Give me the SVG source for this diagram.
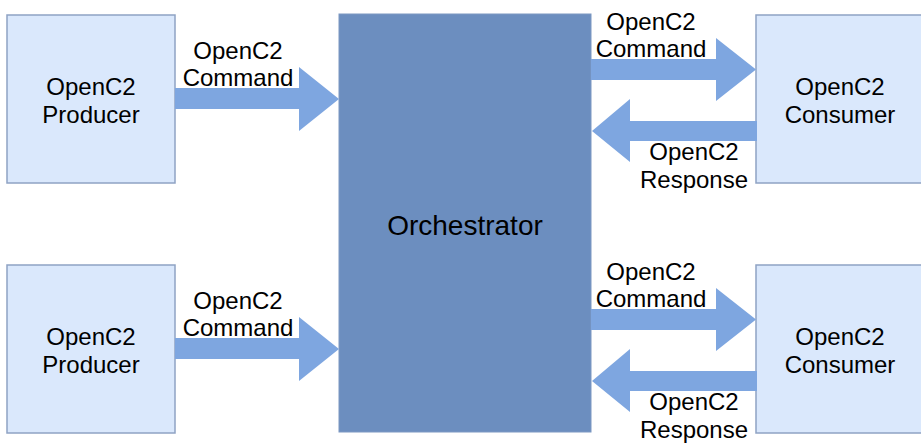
<svg xmlns="http://www.w3.org/2000/svg" width="921" height="445" viewBox="0 0 921 445">
  <style>
    .box { fill: #dae8fc; stroke: #8fa3c4; stroke-width: 1.5; }
    .orch { fill: #6c8ebf; stroke: #7d98c2; stroke-width: 1; }
    .arrow { fill: #7ea6e0; stroke: none; }
    .lbl-bg { fill: #ffffff; }
    text { font-family: "Liberation Sans", Arial, Helvetica, sans-serif; fill: #000; text-anchor: middle; }
    .t { font-size: 24px; }
    .big { font-size: 28px; }
  </style>

  <!-- Orchestrator -->
  <g id="orchestrator">
    <rect class="orch" x="339" y="14" width="252" height="418"/>
    <text class="big" x="465" y="235">Orchestrator</text>
  </g>

  <!-- Producers -->
  <g id="producer-1">
    <rect class="box" x="7" y="15" width="168" height="168"/>
    <text class="t" x="91" y="95">OpenC2</text>
    <text class="t" x="91" y="123">Producer</text>
  </g>
  <g id="producer-2">
    <rect class="box" x="7" y="265" width="168" height="168"/>
    <text class="t" x="91" y="345">OpenC2</text>
    <text class="t" x="91" y="373">Producer</text>
  </g>

  <!-- Consumers -->
  <g id="consumer-1">
    <rect class="box" x="756" y="15" width="168" height="168"/>
    <text class="t" x="840" y="95">OpenC2</text>
    <text class="t" x="840" y="123">Consumer</text>
  </g>
  <g id="consumer-2">
    <rect class="box" x="756" y="265" width="168" height="168"/>
    <text class="t" x="840" y="345">OpenC2</text>
    <text class="t" x="840" y="373">Consumer</text>
  </g>

  <!-- Block arrows with their labels -->
  <g id="connectors">
    <!-- producer 1 -> orchestrator -->
    <polygon class="arrow" points="175,88 299,88 299,67 339,99 299,131 299,109 175,109"/>
    <!-- producer 2 -> orchestrator -->
    <polygon class="arrow" points="175,338 299,338 299,317 339,349 299,381 299,359 175,359"/>

    <!-- orchestrator -> consumer 1 -->
    <polygon class="arrow" points="591,59 716,59 716,38 756,69.5 716,101 716,80 591,80"/>
    <!-- consumer 1 -> orchestrator -->
    <polygon class="arrow" points="757,121 630,121 630,99 592,131 630,162 630,141 757,141"/>

    <!-- orchestrator -> consumer 2 -->
    <polygon class="arrow" points="591,309 716,309 716,288 756,319.5 716,351 716,330 591,330"/>
    <!-- consumer 2 -> orchestrator -->
    <polygon class="arrow" points="757,371 630,371 630,349 592,381 630,412 630,391 757,391"/>

    <!-- labels -->
    <g id="label-cmd-p1">
      <rect class="lbl-bg" x="180" y="38" width="119" height="50"/>
      <text class="t" x="238" y="59">OpenC2</text>
      <text class="t" x="238" y="86">Command</text>
    </g>
    <g id="label-cmd-p2">
      <rect class="lbl-bg" x="180" y="288" width="119" height="50"/>
      <text class="t" x="238" y="309">OpenC2</text>
      <text class="t" x="238" y="336">Command</text>
    </g>
    <g id="label-cmd-c1">
      <rect class="lbl-bg" x="593" y="9" width="123" height="50"/>
      <text class="t" x="651" y="30">OpenC2</text>
      <text class="t" x="651" y="57">Command</text>
    </g>
    <g id="label-resp-c1">
      <text class="t" x="694" y="160">OpenC2</text>
      <text class="t" x="694" y="188">Response</text>
    </g>
    <g id="label-cmd-c2">
      <rect class="lbl-bg" x="593" y="259" width="123" height="50"/>
      <text class="t" x="651" y="280">OpenC2</text>
      <text class="t" x="651" y="307">Command</text>
    </g>
    <g id="label-resp-c2">
      <text class="t" x="694" y="410">OpenC2</text>
      <text class="t" x="694" y="438">Response</text>
    </g>
  </g>
</svg>
